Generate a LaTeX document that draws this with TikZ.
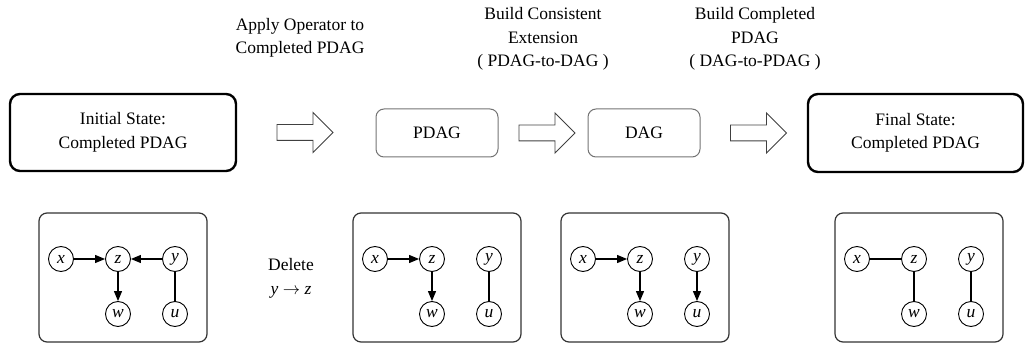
\documentclass[tikz,border=0pt]{standalone}
\usepackage{fontspec}
\setmainfont{Liberation Serif}
\usetikzlibrary{shapes.arrows,arrows.meta}
\begin{document}
\begin{tikzpicture}[x=1pt,y=-1pt,font=\fontsize{17.5}{23.5}\selectfont]
            \tikzstyle{etat}=[draw,rounded corners=10pt,line width=2.4pt,align=center,inner sep=0]
            \tikzstyle{graphe}=[draw=black!55,rounded corners=8pt,line width=1pt,inner sep=0]
            \tikzstyle{vide}=[single arrow,draw=black!75,line width=0.9pt,minimum height=56pt,single arrow head extend=12pt,inner xsep=0,inner ysep=7.5pt]
            \tikzstyle{cadre}=[draw=black!80,rounded corners=8pt,line width=1.2pt,minimum width=168pt,minimum height=129pt,inner sep=0]
            \tikzstyle{var}=[circle,draw,line width=0.9pt,minimum size=25pt,inner sep=0,font=\fontsize{17.5}{20}\selectfont\itshape]
            \tikzstyle{fleche}=[line width=1.2pt,-{Triangle[length=10pt,width=8pt]}]
            \tikzstyle{arete}=[line width=1.2pt]
            \useasboundingbox (0,0) rectangle (1032,347);
            \node[etat,minimum width=226pt,minimum height=77pt] (init) at (123,132.5) {Initial State:\\Completed PDAG};
            \node[graphe,minimum width=122pt,minimum height=48pt] (pdag) at (437,133) {PDAG};
            \node[graphe,minimum width=112pt,minimum height=48pt] (dag) at (644,133) {DAG};
            \node[etat,minimum width=215pt,minimum height=78pt] (final) at (915.5,133) {Final State:\\Completed PDAG};
            \node[vide] (a1) at (301,132.5) {};
            \node[vide] (a2) at (543,133) {};
            \node[vide] (a3) at (754.5,133) {};
            \node[align=center] (op) at (300,38) {Apply Operator to\\Completed PDAG};
            \node[align=center] (ext) at (543,39) {Build Consistent\\Extension\\( PDAG-to-DAG )};
            \node[align=center] (comp) at (755,39) {Build Completed\\PDAG\\( DAG-to-PDAG )};
            \node[align=center] (del) at (291,278.5) {Delete\\\textit{y} $\rightarrow$ \textit{z}};
            \foreach \i/\g in {1/39,2/353,3/561,4/835} {
                \node[cadre] (c\i) at (\g+84,277.5) {};
                \node[var] (x\i) at (\g+22,259) {x};
                \node[var] (z\i) at (\g+79,259) {z};
                \node[var] (y\i) at (\g+136,259) {y};
                \node[var] (w\i) at (\g+79,314) {w};
                \node[var] (u\i) at (\g+136,314) {u};
            }
            \draw[fleche] (x1) -- (z1);
            \draw[fleche] (y1) -- (z1);
            \draw[fleche] (z1) -- (w1);
            \draw[arete] (y1) -- (u1);
            \draw[fleche] (x2) -- (z2);
            \draw[fleche] (z2) -- (w2);
            \draw[arete] (y2) -- (u2);
            \draw[fleche] (x3) -- (z3);
            \draw[fleche] (z3) -- (w3);
            \draw[fleche] (y3) -- (u3);
            \draw[arete] (x4) -- (z4);
            \draw[arete] (z4) -- (w4);
            \draw[arete] (y4) -- (u4);
        \end{tikzpicture}
\end{document}
